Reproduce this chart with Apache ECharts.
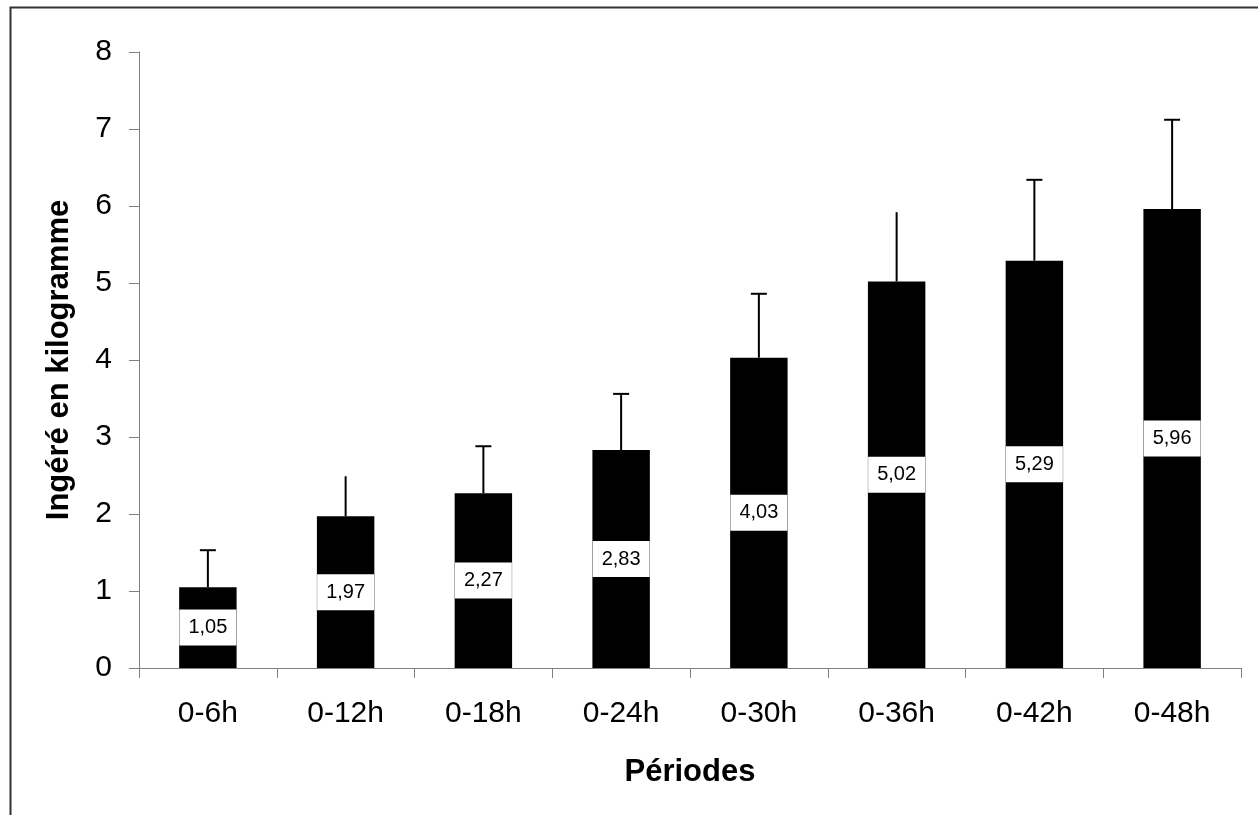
<!DOCTYPE html>
<html>
<head>
<meta charset="utf-8">
<script src="https://cdn.jsdelivr.net/npm/echarts@6/dist/echarts.min.js"></script>
<style>
html,body{margin:0;padding:0;background:#fff;}
#chart{width:1258px;height:815px;}
</style>
</head>
<body>
<div id="chart"></div>
<script>
const categories = ['0-6h','0-12h','0-18h','0-24h','0-30h','0-36h','0-42h','0-48h'];
const means = [1.05, 1.97, 2.27, 2.83, 4.03, 5.02, 5.29, 5.96];
const errorTops = [1.53, 2.49, 2.88, 3.56, 4.86, 5.92, 6.34, 7.12];
const hasCap = [1, 0, 1, 1, 1, 0, 1, 1];
const yTicks = [0, 8, 1];

const FONT = '"Liberation Sans", Arial, sans-serif';
const chart = echarts.init(document.getElementById('chart'));

const errData = categories.map((c, i) => [i, means[i], errorTops[i], hasCap[i]]);

chart.setOption({
  animation: false,
  backgroundColor: '#fff',
  grid: {left: 139, right: 17, top: 52, bottom: 147, containLabel: false},
  graphic: [{
    type: 'rect', left: 8, top: 5, silent: true,
    shape: {width: 1262, height: 830},
    style: {fill: 'none', stroke: '#333', lineWidth: 2}
  }],
  xAxis: {
    type: 'category',
    data: categories,
    name: 'Périodes',
    nameLocation: 'middle',
    nameGap: 89,
    nameTextStyle: {fontFamily: FONT, fontSize: 31, fontWeight: 'bold', color: '#000'},
    axisLine: {lineStyle: {color: '#808080', width: 1}},
    axisTick: {show: true, length: 10, lineStyle: {color: '#808080'}},
    axisLabel: {fontFamily: FONT, fontSize: 30, color: '#000', margin: 31}
  },
  yAxis: {
    type: 'value',
    min: yTicks[0], max: yTicks[1], interval: yTicks[2],
    name: 'Ingéré en kilogramme',
    nameLocation: 'middle',
    nameGap: 64,
    nameTextStyle: {fontFamily: FONT, fontSize: 31, fontWeight: 'bold', color: '#000'},
    axisLine: {show: true, lineStyle: {color: '#808080', width: 1}},
    axisTick: {show: true, length: 10, lineStyle: {color: '#808080'}},
    axisLabel: {fontFamily: FONT, fontSize: 30, color: '#000', margin: 27},
    splitLine: {show: false}
  },
  series: [{
    type: 'bar',
    data: means,
    barWidth: '41.7%',
    itemStyle: {color: '#000'},
    label: {
      show: true,
      position: 'inside',
      formatter: p => String(p.value.toFixed(2)).replace('.', ','),
      fontFamily: FONT,
      fontSize: 20,
      color: '#000',
      backgroundColor: '#fff',
      width: 57,
      height: 36,
      lineHeight: 36,
      align: 'center',
      verticalAlign: 'middle'
    },
    z: 2
  }, {
    type: 'custom',
    data: errData,
    z: 3,
    renderItem: function (params, api) {
      const i = api.value(0);
      const p0 = api.coord([i, api.value(1)]);
      const p1 = api.coord([i, api.value(2)]);
      const children = [{
        type: 'line',
        shape: {x1: p0[0], y1: p0[1], x2: p1[0], y2: p1[1]},
        style: {stroke: '#000', lineWidth: 2}
      }];
      if (api.value(3)) {
        children.push({
          type: 'line',
          shape: {x1: p1[0] - 8, y1: p1[1], x2: p1[0] + 8, y2: p1[1]},
          style: {stroke: '#000', lineWidth: 2}
        });
      }
      return {type: 'group', children: children};
    }
  }]
});
</script>
</body>
</html>
